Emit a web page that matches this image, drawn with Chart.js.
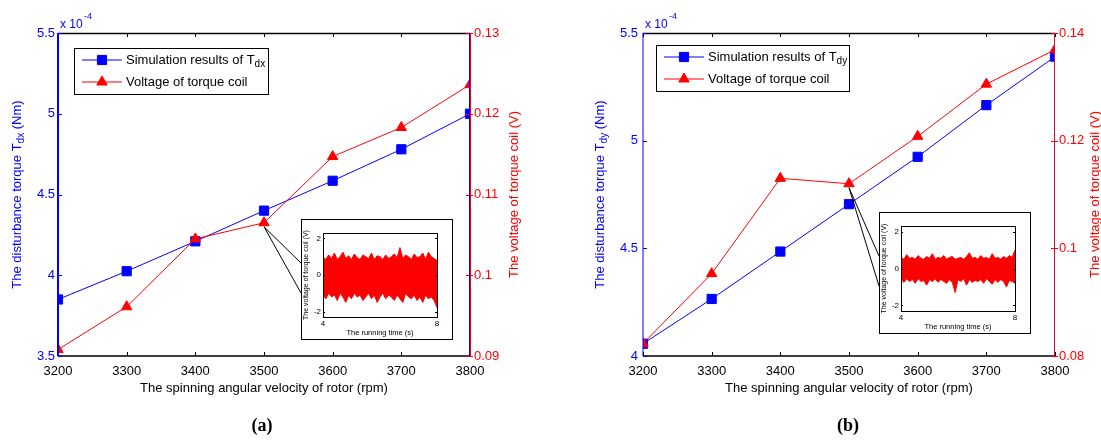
<!DOCTYPE html>
<html>
<head>
<meta charset="utf-8">
<script src="https://cdn.jsdelivr.net/npm/chart.js@4.4.1/dist/chart.umd.min.js"></script>
<style>
  html, body { margin: 0; padding: 0; background: #fff; }
  #wrap { position: relative; width: 1101px; height: 441px; overflow: hidden; background: #fff; }
  canvas { position: absolute; }
  .cap { position: absolute; top: 415px; font: bold 18px "Liberation Serif", serif; color: #000; transform: translateX(-50%); }
</style>
</head>
<body>
<div id="wrap">
  <canvas id="panelA" width="550" height="441" style="left:0;top:0"></canvas>
  <canvas id="panelB" width="551" height="441" style="left:550px;top:0"></canvas>
  <canvas id="insetA" width="152" height="121" style="left:301px;top:219px"></canvas>
  <canvas id="insetB" width="152" height="122" style="left:879px;top:212px"></canvas>
  <div class="cap" style="left:262px">(a)</div>
  <div class="cap" style="left:848px">(b)</div>
</div>
<script>
// rotor speed (rpm)
const rpm = [3200, 3300, 3400, 3500, 3600, 3700, 3800];
// (a) disturbance torque Tdx, x 10^-4 Nm, and coil voltage (V)
const torqueX = [3.85, 4.025, 4.21, 4.40, 4.585, 4.78, 5.00];
const voltageA = [0.0908, 0.0961, 0.1045, 0.1065, 0.1147, 0.1183, 0.1236];
// (b) disturbance torque Tdy, x 10^-4 Nm, and coil voltage (V)
const torqueY = [4.057, 4.265, 4.485, 4.705, 4.925, 5.165, 5.39];
const voltageB = [0.0823, 0.0953, 0.1130, 0.1120, 0.1208, 0.1305, 0.1369];

// inset: coil voltage trace over running time, read as upper / lower envelope
const runTime = [4.0, 4.1, 4.2, 4.3, 4.4, 4.5, 4.6, 4.7, 4.8, 4.9, 5.0, 5.1, 5.2, 5.3, 5.4, 5.5, 5.6, 5.7, 5.8, 5.9,
  6.0, 6.1, 6.2, 6.3, 6.4, 6.5, 6.6, 6.7, 6.8, 6.9, 7.0, 7.1, 7.2, 7.3, 7.4, 7.5, 7.6, 7.7, 7.8, 7.9, 8.0];
const insetAUpper = [1.0, 0.85, 1.1, 0.9, 1.2, 0.85, 1.0, 1.25, 0.9, 1.05, 0.85, 1.15, 0.95, 0.85, 1.1, 1.0, 0.9, 1.2, 0.85, 1.05,
  1.0, 0.85, 1.1, 0.9, 1.0, 1.15, 0.95, 1.5, 0.9, 1.1, 1.0, 0.85, 1.15, 0.95, 1.0, 1.2, 0.85, 1.25, 1.0, 0.9, 0.8];
const insetALower = [-1.1, -1.3, -1.0, -1.2, -1.1, -1.4, -1.0, -1.2, -1.5, -1.1, -1.3, -1.0, -1.2, -1.1, -1.4, -1.2, -1.0, -1.3, -1.1, -1.5,
  -1.2, -1.0, -1.3, -1.1, -1.2, -1.4, -1.1, -1.3, -1.5, -1.0, -1.2, -1.3, -1.1, -1.4, -1.2, -1.5, -1.1, -1.3, -1.2, -1.4, -1.8];
const insetBUpper = [0.6, 0.5, 0.75, 0.55, 0.6, 0.5, 0.7, 0.55, 0.5, 0.65, 0.55, 0.8, 0.5, 0.6, 0.55, 0.7, 0.5, 0.6, 0.65, 0.5,
  0.55, 0.6, 0.5, 0.65, 0.85, 0.55, 0.6, 0.5, 0.7, 0.55, 0.6, 0.5, 0.8, 0.55, 0.6, 0.5, 0.65, 0.55, 0.7, 0.6, 1.0];
const insetBLower = [-0.6, -0.75, -0.55, -0.7, -0.6, -0.8, -0.55, -0.7, -0.65, -0.9, -0.6, -0.7, -0.55, -0.75, -0.6, -0.7, -0.8, -0.6, -0.75, -1.3,
  -0.6, -0.7, -0.55, -0.9, -0.6, -0.75, -0.65, -0.7, -0.6, -0.8, -0.55, -0.7, -0.85, -0.6, -0.75, -0.6, -0.7, -1.0, -0.65, -0.7, -0.8];

const BLUE = '#0000ff';
const RED = '#ff0000';
const FONT = '"Liberation Sans", Arial, sans-serif';

// draw text made of normal and subscript parts, starting at x
function richWidth(ctx, parts, size) {
  let w = 0;
  parts.forEach(p => {
    ctx.font = (p.sub ? size - 3 : size) + 'px ' + FONT;
    w += ctx.measureText(p.t).width;
  });
  return w;
}
function drawRich(ctx, parts, x, y, size) {
  parts.forEach(p => {
    ctx.font = (p.sub ? size - 3 : size) + 'px ' + FONT;
    ctx.fillText(p.t, x, p.sub ? y + 4 : y);
    x += ctx.measureText(p.t).width;
  });
}
function drawRotated(ctx, parts, cx, cy, size, color) {
  ctx.save();
  ctx.translate(cx, cy);
  ctx.rotate(-Math.PI / 2);
  ctx.fillStyle = color;
  ctx.textBaseline = 'middle';
  const w = richWidth(ctx, parts, size);
  drawRich(ctx, parts, -w / 2, 0, size);
  ctx.restore();
}

function makePanel(id, o) {
  const decor = {
    id: 'decor',
    afterDraw(chart) {
      const ctx = chart.ctx;
      const a = chart.chartArea;
      const sx = chart.scales.x, sy = chart.scales.y, sy1 = chart.scales.y1;
      ctx.save();
      // box: top border, inward ticks
      ctx.strokeStyle = '#000';
      ctx.lineWidth = 1.5;
      ctx.beginPath();
      ctx.moveTo(a.left, a.top + 0.5); ctx.lineTo(a.right, a.top + 0.5);
      ctx.moveTo(a.left, a.bottom); ctx.lineTo(a.right, a.bottom);
      ctx.stroke();
      ctx.lineWidth = 1;
      sx.ticks.forEach(t => {
        const px = Math.round(sx.getPixelForValue(t.value)) + 0.5;
        ctx.beginPath();
        ctx.moveTo(px, a.bottom); ctx.lineTo(px, a.bottom - 4);
        ctx.moveTo(px, a.top); ctx.lineTo(px, a.top + 4);
        ctx.stroke();
      });
      ctx.strokeStyle = BLUE;
      sy.ticks.forEach(t => {
        const py = Math.round(sy.getPixelForValue(t.value)) + 0.5;
        ctx.beginPath(); ctx.moveTo(a.left, py); ctx.lineTo(a.left + 4, py); ctx.stroke();
      });
      ctx.strokeStyle = RED;
      sy1.ticks.forEach(t => {
        const py = Math.round(sy1.getPixelForValue(t.value)) + 0.5;
        ctx.beginPath(); ctx.moveTo(a.right - 4, py); ctx.lineTo(a.right + 3, py); ctx.stroke();
      });
      // axis lines
      ctx.lineWidth = o.leftWidth;
      ctx.strokeStyle = BLUE;
      ctx.beginPath(); ctx.moveTo(a.left, a.top); ctx.lineTo(a.left, a.bottom); ctx.stroke();
      ctx.lineWidth = 1;
      o.rightColors.forEach((c, i) => {
        ctx.strokeStyle = c;
        const px = Math.round(a.right) - 0.5 + i;
        ctx.beginPath(); ctx.moveTo(px, a.top); ctx.lineTo(px, a.bottom); ctx.stroke();
      });

      // exponent label
      ctx.fillStyle = BLUE;
      ctx.textBaseline = 'alphabetic';
      ctx.font = '12px ' + FONT;
      ctx.fillText('x 10', a.left + 2, a.top - 5);
      ctx.font = '9px ' + FONT;
      ctx.fillText('-4', a.left + 26, a.top - 14);

      // axis titles with subscripts
      drawRotated(ctx, [{ t: 'The disturbance torque T' }, { t: o.sub, sub: true }, { t: ' (Nm)' }],
        o.leftTitleX, (a.top + a.bottom) / 2, 13, BLUE);
      drawRotated(ctx, [{ t: 'The voltage of torque coil (V)' }], o.rightTitleX, (a.top + a.bottom) / 2, 13, RED);

      // callout lines from the 3500 rpm point to the inset
      const px = sx.getPixelForValue(rpm[3]);
      const py = sy1.getPixelForValue(o.volt[3]) + 4;
      ctx.strokeStyle = '#000';
      ctx.lineWidth = 1;
      ctx.beginPath();
      ctx.moveTo(px, py); ctx.lineTo(o.insetX, o.insetY + 44);
      ctx.moveTo(px, py); ctx.lineTo(o.insetX, o.insetY + 74);
      ctx.stroke();

      // legend
      const lx = a.left + o.legend[0], ly = a.top + o.legend[1];
      ctx.fillStyle = '#fff';
      ctx.fillRect(lx, ly, o.legend[2], 46);
      ctx.strokeStyle = '#000';
      ctx.strokeRect(lx + 0.5, ly + 0.5, o.legend[2], 46);
      const rows = [
        { color: BLUE, style: 'rect', r: 6.5, parts: [{ t: 'Simulation results of T' }, { t: o.sub, sub: true }], y: ly + 12 },
        { color: RED, style: 'triangle', r: 6, parts: [{ t: 'Voltage of torque coil' }], y: ly + 34 }
      ];
      rows.forEach(r => {
        ctx.strokeStyle = r.color;
        ctx.fillStyle = r.color;
        ctx.lineWidth = 1;
        ctx.beginPath(); ctx.moveTo(lx + 8, r.y); ctx.lineTo(lx + 48, r.y); ctx.stroke();
        Chart.helpers.drawPoint(ctx, { pointStyle: r.style, radius: r.r, rotation: 0, borderWidth: 1 }, lx + 28, r.y);
        ctx.fillStyle = '#000';
        ctx.textBaseline = 'middle';
        drawRich(ctx, r.parts, lx + 52, r.y, 13);
      });
      ctx.restore();
    }
  };

  const tickFont = { family: FONT, size: 13 };
  const noGrid = { display: false, drawTicks: false };
  return new Chart(document.getElementById(id), {
    type: 'line',
    data: {
      datasets: [
        {
          data: rpm.map((v, i) => ({ x: v, y: o.torque[i] })),
          yAxisID: 'y', order: 1,
          borderColor: BLUE, backgroundColor: BLUE, borderWidth: 1,
          pointStyle: 'rect', pointRadius: 6.5, pointBorderWidth: 1
        },
        {
          data: rpm.map((v, i) => ({ x: v, y: o.volt[i] })),
          yAxisID: 'y1', order: 0,
          borderColor: RED, backgroundColor: RED, borderWidth: 1,
          pointStyle: 'triangle', pointRadius: 6, pointBorderWidth: 1
        }
      ]
    },
    options: {
      responsive: false,
      animation: false,
      layout: { padding: { top: 33, bottom: 45, left: 0, right: 0 } },
      plugins: { legend: { display: false }, tooltip: { enabled: false } },
      scales: {
        x: {
          type: 'linear', min: 3200, max: 3800,
          ticks: { stepSize: 100, color: '#000', font: tickFont, padding: 8, callback: v => String(v) },
          grid: noGrid,
          border: { display: false },
          title: { display: true, text: 'The spinning angular velocity of rotor (rpm)', color: '#000', font: tickFont, padding: { top: 0, bottom: 0 } },
          afterFit: s => { s.height = 40; }
        },
        y: {
          position: 'left', min: o.yRange[0], max: o.yRange[1],
          ticks: { stepSize: 0.5, color: BLUE, font: tickFont, padding: o.leftPad, callback: v => String(v) },
          grid: noGrid,
          border: { display: false },
          afterFit: s => { s.width = o.leftW; }
        },
        y1: {
          position: 'right', min: o.vRange[0], max: o.vRange[1],
          ticks: { stepSize: o.vStep, color: RED, font: tickFont, padding: 4,
            callback: v => String(Number(v.toFixed(3))) },
          grid: noGrid,
          border: { display: false },
          afterFit: s => { s.width = o.rightW; }
        }
      }
    },
    plugins: [decor]
  });
}

function makeInset(id, upper, lower) {
  const frame = {
    id: 'frame',
    afterDraw(chart) {
      const ctx = chart.ctx;
      const a = chart.chartArea;
      ctx.save();
      ctx.strokeStyle = '#000';
      ctx.lineWidth = 1;
      ctx.strokeRect(0.5, 0.5, chart.width - 1, chart.height - 1);
      ctx.strokeRect(Math.round(a.left) + 0.5, Math.round(a.top) + 0.5, Math.round(a.right - a.left), Math.round(a.bottom - a.top));
      const sy = chart.scales.y;
      sy.ticks.forEach(t => {
        const py = Math.round(sy.getPixelForValue(t.value)) + 0.5;
        ctx.beginPath();
        ctx.moveTo(a.left, py); ctx.lineTo(a.left + 2, py);
        ctx.moveTo(a.right, py); ctx.lineTo(a.right - 2, py);
        ctx.stroke();
      });
      ctx.restore();
    }
  };
  const f = { family: FONT, size: 8 };
  const noGrid = { display: false, drawTicks: false };
  return new Chart(document.getElementById(id), {
    type: 'line',
    data: {
      datasets: [
        { data: runTime.map((t, i) => ({ x: t, y: upper[i] })), borderColor: RED, backgroundColor: RED,
          borderWidth: 1, pointRadius: 0, fill: '+1' },
        { data: runTime.map((t, i) => ({ x: t, y: lower[i] })), borderColor: RED, backgroundColor: RED,
          borderWidth: 1, pointRadius: 0, fill: false }
      ]
    },
    options: {
      responsive: false,
      animation: false,
      layout: { padding: { top: 14, right: 16, left: 0, bottom: 0 } },
      plugins: { legend: { display: false }, tooltip: { enabled: false }, filler: { propagate: false } },
      scales: {
        x: {
          type: 'linear', min: 4, max: 8,
          ticks: { stepSize: 4, color: '#000', font: f, padding: 2, maxRotation: 0 },
          grid: noGrid, border: { display: false },
          title: { display: true, text: 'The running time (s)', color: '#000', font: { family: FONT, size: 7.5 }, padding: { top: 0, bottom: 3 } },
          afterFit: s => { s.height = 23; }
        },
        y: {
          min: -2.3, max: 2.3,
          afterBuildTicks: s => { s.ticks = [-2, 0, 2].map(v => ({ value: v })); },
          ticks: { color: '#000', font: f, padding: 2 },
          grid: noGrid, border: { display: false },
          title: { display: true, text: 'The voltage of torque coil (V)', color: '#000', font: { family: FONT, size: 7 }, padding: { top: 1, bottom: 0 } },
          afterFit: s => { s.width = 22; }
        }
      }
    },
    plugins: [frame]
  });
}

makePanel('panelA', {
  torque: torqueX, volt: voltageA, sub: 'dx',
  yRange: [3.5, 5.5], vRange: [0.09, 0.13], vStep: 0.01,
  leftW: 58, rightW: 80, leftWidth: 2, leftPad: 3, rightColors: [BLUE, RED],
  leftTitleX: 17, rightTitleX: 514,
  insetX: 301, insetY: 219, legend: [16, 15, 194]
});
makePanel('panelB', {
  torque: torqueY, volt: voltageB, sub: 'dy',
  yRange: [4, 5.5], vRange: [0.08, 0.14], vStep: 0.02,
  leftW: 93, rightW: 46, leftWidth: 1, leftPad: 5, rightColors: ['#c8103c'],
  leftTitleX: 50, rightTitleX: 545,
  insetX: 329, insetY: 212, legend: [13, 12, 193]
});
makeInset('insetA', insetAUpper, insetALower);
makeInset('insetB', insetBUpper, insetBLower);
</script>
</body>
</html>
